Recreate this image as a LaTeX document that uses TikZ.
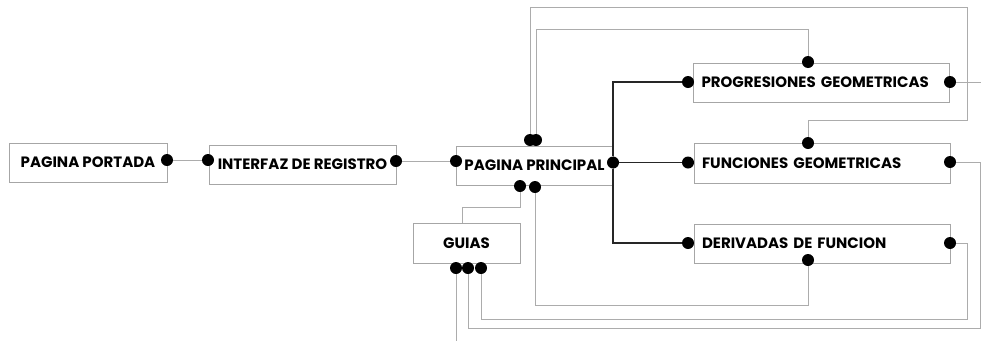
\documentclass[tikz,border=0pt]{standalone}
\usepackage{fontspec}
\setmainfont{Poppins}
\usetikzlibrary{positioning}

\begin{document}
\begin{tikzpicture}
  [x=1pt,y=-1pt,
   pagebox/.style={draw=gray!70,line width=1pt,inner sep=0pt,minimum height=39pt,
     font=\fontsize{15}{18}\selectfont\bfseries},
   leftbox/.style={pagebox,text width=240pt,inner xsep=8pt,align=left},
   dot/.style={circle,fill=black,inner sep=0pt,minimum size=12pt},
   link/.style={draw=gray!65,line width=1pt},
   mainlink/.style={draw=black!85,line width=1.1pt}]
  \useasboundingbox (0,0) rectangle (981,341);

  % pages
  \node[pagebox,minimum width=158pt] (portada) at (88,162.5) {PAGINA PORTADA};
  \node[pagebox,minimum width=187pt] (registro) at (302.5,164.5) {INTERFAZ DE REGISTRO};
  \node[pagebox,minimum width=157pt] (principal) at (534.5,165.5) {PAGINA PRINCIPAL};
  \node[pagebox,minimum width=107pt,minimum height=40pt] (guias) at (466.5,243) {GUIAS};
  \node[leftbox] (progresiones) at (821.5,82.5) {\mbox{PROGRESIONES GEOMETRICAS}};
  \node[leftbox,minimum height=40pt] (funciones) at (822,163) {\mbox{FUNCIONES GEOMETRICAS}};
  \node[leftbox] (derivadas) at (822,243.5) {\mbox{DERIVADAS DE FUNCION}};

  % connection points
  \node[dot] (portada-e) at (167,160) {};
  \node[dot] (registro-w) at (208,160) {};
  \node[dot] (registro-e) at (396,161) {};
  \node[dot] (principal-w) at (456,161) {};
  \node[dot] (principal-e) at (613,162.5) {};
  \node[dot] (principal-n1) at (530,140) {};
  \node[dot] (principal-n2) at (536,140) {};
  \node[dot] (principal-s1) at (520,186) {};
  \node[dot] (principal-s2) at (535,187) {};
  \node[dot] (guias-s1) at (456,268) {};
  \node[dot] (guias-s2) at (468,268) {};
  \node[dot] (guias-s3) at (481,268) {};
  \node[dot] (progresiones-w) at (688,82) {};
  \node[dot] (progresiones-e) at (950,82) {};
  \node[dot] (progresiones-n) at (808,62) {};
  \node[dot] (funciones-w) at (688,162.5) {};
  \node[dot] (funciones-e) at (950,162) {};
  \node[dot] (funciones-n) at (808,143) {};
  \node[dot] (derivadas-w) at (688,243) {};
  \node[dot] (derivadas-e) at (950,243) {};
  \node[dot] (derivadas-s) at (808,260) {};
  \coordinate (guias-n) at (462,223);
  \coordinate (exit-r) at (981,82);
  \coordinate (exit-b) at (456,341);

  % links
  \foreach \from/\to in {portada-e/registro-w, registro-e/principal-w,
      progresiones-e/exit-r, guias-s1/exit-b}
    \draw[link] (\from) -- (\to);
  \draw[mainlink] (principal-e) -- (funciones-w);
  \draw[mainlink] (progresiones-w) -| (principal-e);
  \draw[mainlink] (derivadas-w) -| (principal-e);
  \draw[link] (principal-n2) |- (808,29) -- (progresiones-n);
  \draw[link] (principal-n1) |- (967,7) |- (808,120) -- (funciones-n);
  \draw[link] (funciones-e) -| (980,328) -| (guias-s2);
  \draw[link] (derivadas-e) -| (967,319) -| (guias-s3);
  \draw[link] (derivadas-s) |- (535,305) -- (principal-s2);
  \draw[link] (guias-n) |- (520,207) -- (principal-s1);

\end{tikzpicture}
\end{document}
